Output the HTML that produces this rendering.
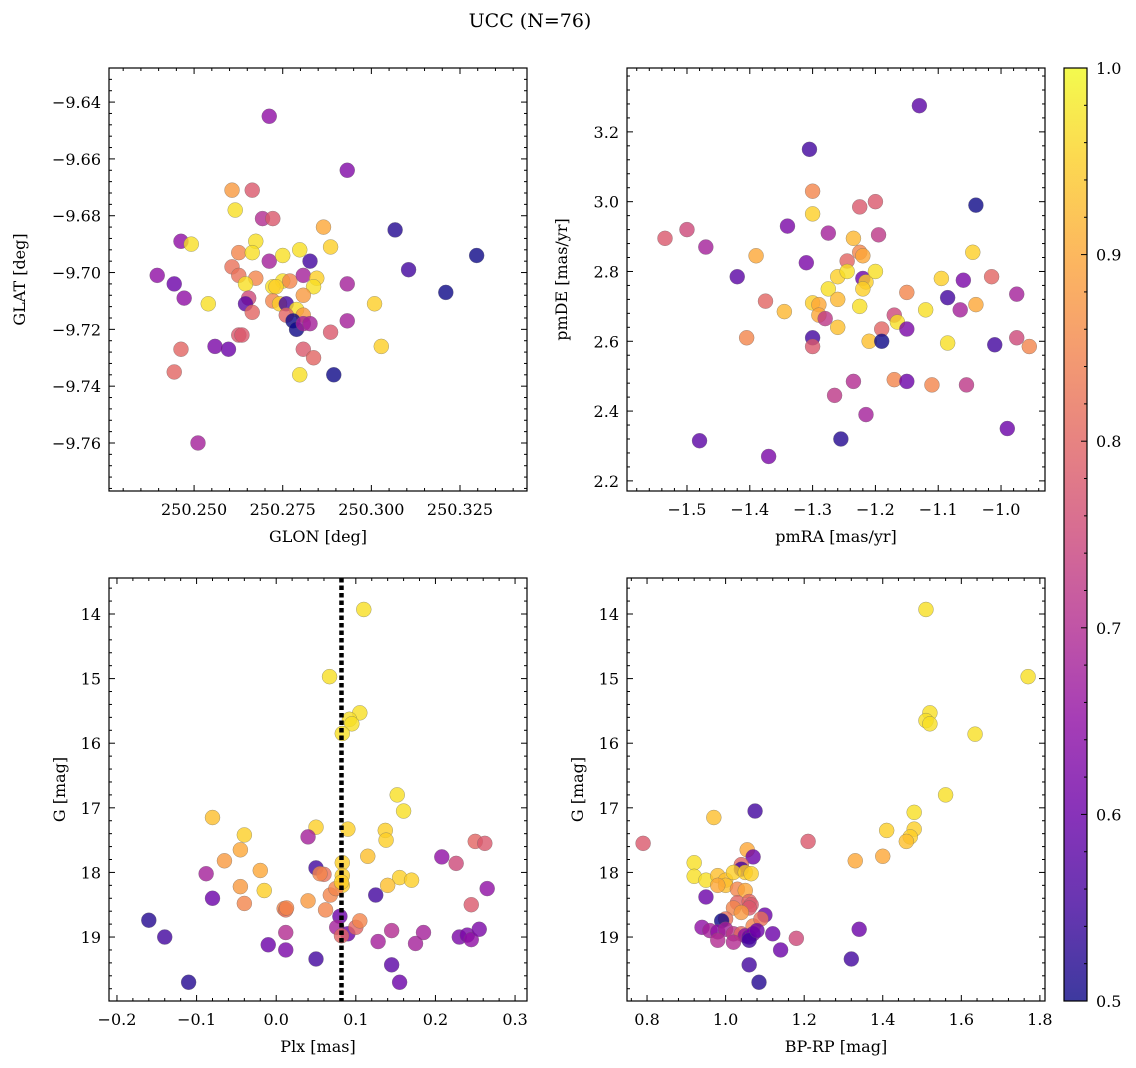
<!DOCTYPE html>
<html><head><meta charset="utf-8">
<style>
html,body{margin:0;padding:0;background:#fff;}
svg{display:block;font-family:"DejaVu Serif","Liberation Serif",serif;}
</style></head>
<body>
<svg id="fig" width="1136" height="1068" viewBox="0 0 1136 1068" xmlns="http://www.w3.org/2000/svg">
<text x="530" y="27" font-size="19" text-anchor="middle">UCC (N=76)</text>
</svg>
<script>
// ---- Panel 1: GLON / GLAT ----
const p1x=[250.2712,250.2932,250.2607,250.2664,250.2616,250.2693,250.2722,250.2865,250.3067,250.2463,250.2492,250.2674,250.2885,250.2626,250.2664,250.2712,250.2750,250.2798,250.2827,250.2607,250.2626,250.2674,250.2645,250.2750,250.2770,250.2808,250.2846,250.2837,250.2808,250.2722,250.2731,250.2540,250.2654,250.2645,250.2664,250.2722,250.2741,250.2760,250.2789,250.2760,250.2808,250.2779,250.2789,250.2808,250.2827,250.2932,250.2885,250.2932,250.2626,250.2597,250.2808,250.2837,250.2798,250.2894,250.2396,250.2444,250.2472,250.2463,250.2444,250.2511,250.2635,250.3105,250.3210,250.3297,250.3009,250.3028,250.2559];
const p1y=[-9.645,-9.664,-9.671,-9.671,-9.678,-9.681,-9.681,-9.684,-9.685,-9.689,-9.690,-9.689,-9.691,-9.693,-9.693,-9.696,-9.694,-9.692,-9.696,-9.698,-9.701,-9.702,-9.704,-9.703,-9.703,-9.701,-9.702,-9.705,-9.708,-9.705,-9.705,-9.711,-9.709,-9.711,-9.714,-9.710,-9.711,-9.711,-9.713,-9.715,-9.715,-9.717,-9.720,-9.718,-9.718,-9.717,-9.721,-9.704,-9.722,-9.727,-9.727,-9.730,-9.736,-9.736,-9.701,-9.704,-9.709,-9.727,-9.735,-9.760,-9.722,-9.699,-9.707,-9.694,-9.711,-9.726,-9.726];
const p1c=[.65,.63,.88,.78,.97,.7,.78,.9,.52,.65,.97,.97,.95,.85,.97,.68,.97,.97,.55,.82,.82,.85,.97,.97,.85,.68,.95,.97,.88,.97,.95,.97,.75,.58,.8,.85,.95,.55,.97,.8,.88,.5,.5,.68,.68,.68,.78,.68,.78,.6,.78,.8,.97,.5,.65,.6,.65,.8,.8,.68,.78,.55,.5,.5,.95,.95,.62];
// ---- Panel 2: pmRA / pmDE ----
const p2x=[-1.13,-1.305,-1.04,-1.30,-1.30,-1.535,-1.50,-1.47,-1.34,-1.275,-1.225,-1.20,-1.195,-1.245,-1.31,-1.39,-1.42,-1.225,-1.26,-1.245,-1.22,-1.215,-1.20,-1.275,-1.22,-1.30,-1.29,-1.26,-1.225,-1.29,-1.28,-1.375,-1.345,-1.26,-1.19,-1.17,-1.165,-1.21,-1.19,-1.30,-1.30,-1.405,-1.15,-1.12,-1.095,-1.085,-1.085,-1.065,-1.06,-1.045,-1.04,-1.015,-1.01,-0.975,-0.975,-0.955,-0.99,-1.15,-1.17,-1.15,-1.11,-1.055,-1.235,-1.265,-1.215,-1.255,-1.48,-1.37,-1.22,-1.235];
const p2y=[3.275,3.15,2.99,3.03,2.965,2.895,2.92,2.87,2.93,2.91,2.985,3.0,2.905,2.83,2.825,2.845,2.785,2.855,2.785,2.80,2.78,2.77,2.80,2.75,2.75,2.71,2.705,2.72,2.70,2.675,2.665,2.715,2.685,2.64,2.635,2.675,2.655,2.60,2.60,2.61,2.585,2.61,2.74,2.69,2.78,2.725,2.595,2.69,2.775,2.855,2.705,2.785,2.59,2.735,2.61,2.585,2.35,2.635,2.49,2.485,2.475,2.475,2.485,2.445,2.39,2.32,2.315,2.27,2.845,2.895];
const p2c=[.58,.55,.5,.85,.95,.78,.75,.68,.62,.68,.78,.78,.72,.8,.62,.9,.58,.85,.95,.97,.6,.95,.97,.97,.95,.95,.9,.92,.97,.9,.72,.8,.92,.93,.8,.75,.97,.93,.5,.55,.78,.85,.85,.97,.95,.55,.97,.68,.62,.95,.9,.8,.55,.68,.75,.85,.6,.62,.85,.6,.85,.72,.7,.72,.68,.52,.58,.62,.9,.92];
// ---- Panel 3: Plx / G ----
const p3x=[0.11,0.067,0.105,0.092,0.095,0.083,-0.08,0.152,0.16,0.05,0.09,0.137,0.138,-0.04,0.04,-0.045,-0.065,-0.088,-0.02,0.05,0.06,0.055,0.083,0.083,0.083,0.115,0.155,0.17,0.14,0.125,0.208,0.226,0.25,0.262,0.265,0.245,-0.045,-0.015,-0.08,-0.04,0.01,0.012,0.013,0.04,0.062,0.068,0.075,0.082,0.08,0.076,0.09,0.1,0.105,0.082,0.128,0.145,0.175,0.185,0.23,0.24,0.245,0.255,0.145,0.155,0.05,0.012,-0.01,0.012,-0.16,-0.14,-0.11];
const p3y=[13.93,14.97,15.53,15.63,15.70,15.85,17.15,16.8,17.05,17.3,17.33,17.35,17.5,17.42,17.45,17.65,17.82,18.02,17.97,17.93,18.03,18.02,17.85,18.05,18.2,17.75,18.08,18.12,18.2,18.35,17.76,17.86,17.52,17.55,18.25,18.5,18.22,18.28,18.4,18.48,18.56,18.58,18.55,18.44,18.58,18.35,18.25,18.15,18.68,18.85,18.95,18.85,18.75,18.98,19.07,18.9,19.1,18.93,19.0,18.97,19.04,18.88,19.43,19.7,19.34,19.2,19.12,18.93,18.74,19.0,19.7];
const p3c=[.97,.97,.97,.97,.97,.97,.93,.97,.97,.95,.95,.95,.95,.95,.68,.9,.88,.68,.9,.55,.82,.85,.95,.95,.95,.93,.95,.95,.93,.55,.65,.75,.8,.78,.65,.78,.88,.95,.6,.85,.85,.82,.85,.88,.85,.85,.85,.95,.6,.68,.6,.8,.85,.8,.68,.7,.68,.68,.62,.62,.65,.62,.58,.6,.55,.62,.6,.7,.52,.55,.52];
// ---- Panel 4: BP-RP / G ----
const p4x=[1.51,1.77,1.52,1.51,1.52,1.635,1.56,0.97,1.48,1.075,1.41,1.48,1.47,1.46,1.21,0.79,1.055,1.40,1.33,0.92,1.07,1.04,1.04,0.92,0.95,0.98,1.0,1.02,1.05,1.065,1.0,0.98,1.03,1.05,0.95,1.03,1.06,1.065,1.06,1.02,1.04,1.0,0.99,1.07,1.1,1.09,0.94,0.96,0.98,1.0,1.02,1.04,1.05,1.06,1.07,1.06,0.98,1.12,1.18,1.14,1.06,1.085,1.32,1.34,1.02,1.08];
const p4y=[13.93,14.97,15.53,15.65,15.70,15.86,16.8,17.15,17.07,17.05,17.35,17.33,17.45,17.52,17.52,17.55,17.65,17.75,17.82,17.85,17.76,17.88,17.95,18.06,18.12,18.05,18.12,18.0,18.0,18.02,18.2,18.2,18.26,18.28,18.38,18.47,18.45,18.5,18.55,18.55,18.62,18.72,18.75,18.83,18.66,18.72,18.85,18.9,18.92,18.88,18.95,18.95,18.98,19.0,18.95,19.05,19.05,18.95,19.02,19.2,19.43,19.7,19.34,18.88,19.08,18.9];
const p4c=[.97,.97,.97,.97,.97,.97,.97,.93,.97,.55,.95,.95,.95,.93,.78,.78,.9,.9,.9,.97,.6,.8,.55,.97,.97,.93,.93,.95,.95,.95,.93,.9,.85,.9,.6,.8,.8,.78,.78,.85,.88,.82,.5,.85,.6,.82,.65,.68,.65,.68,.72,.8,.65,.6,.62,.55,.7,.6,.75,.6,.55,.52,.55,.6,.7,.6];
const plxLine=0.082;

const NS="http://www.w3.org/2000/svg";
const svg=document.getElementById('fig');
const stops=['#0d0887','#41049d','#6a00a8','#8f0da4','#b12a90','#cc4778','#e16462','#f2844b','#fca636','#fcce25','#f0f921'];
function hex(h){return [parseInt(h.substr(1,2),16),parseInt(h.substr(3,2),16),parseInt(h.substr(5,2),16)];}
function plasma(t){t=Math.max(0,Math.min(1,t));const f=t*10;const i=Math.min(9,Math.floor(f));const u=f-i;const a=hex(stops[i]),b=hex(stops[i+1]);
return 'rgb('+a.map((v,k)=>Math.round(v+(b[k]-v)*u)).join(',')+')';}
function mk(tag,attrs,parent){const e=document.createElementNS(NS,tag);for(const k in attrs)e.setAttribute(k,attrs[k]);(parent||svg).appendChild(e);return e;}
function fmt(v,d){let s=v.toFixed(d);if(s.startsWith('-'))s='\u2212'+s.slice(1);if(s==='\u22120.0')s='0.0';return s;}

function panel(name,L,T,W,H,xmin,xmax,ymin,ymax,invY,xmaj,xminr,xd,ymaj,yminr,yd,xlab,ylab,xs,ys,cs,vline){
  const g=mk('g',{});
  
  
  const sx=v=>L+(v-xmin)/(xmax-xmin)*W;
  const sy=v=>invY?T+(v-ymin)/(ymax-ymin)*H:T+H-(v-ymin)/(ymax-ymin)*H;
  const clip=mk('clipPath',{id:'clip-'+name},g);mk('rect',{x:L,y:T,width:W,height:H},clip);
  const pts=mk('g',{'clip-path':'url(#clip-'+name+')'},g);
  for(let i=0;i<xs.length;i++){
    const c=mk('circle',{cx:sx(xs[i]),cy:sy(ys[i]),r:7.5,fill:plasma((cs[i]-0.5)/0.5),'fill-opacity':0.8,stroke:'#666','stroke-width':0.5,'stroke-opacity':0.6},pts);
    
    
  }
  if(vline!==undefined){
    const l=mk('line',{x1:sx(vline),x2:sx(vline),y1:T,y2:T+H,stroke:'#000','stroke-width':4.5,'stroke-dasharray':'4.5,3'},pts);
    
    
  }
  mk('rect',{x:L,y:T,width:W,height:H,fill:'none',stroke:'#000','stroke-width':1.2},g);
  const e=1e-9;
  for(let v=Math.ceil(xmin/xminr-e)*xminr;v<=xmax+e;v+=xminr){
    const isMaj=Math.abs(v/xmaj-Math.round(v/xmaj))<1e-4;const len=isMaj?6:3;const x=sx(v);
    mk('line',{x1:x,x2:x,y1:T+H,y2:T+H-len,stroke:'#000','stroke-width':1},g);
    mk('line',{x1:x,x2:x,y1:T,y2:T+len,stroke:'#000','stroke-width':1},g);
    if(isMaj){const t=mk('text',{x:x,y:T+H+24,'font-size':16,'text-anchor':'middle'},g);t.textContent=fmt(Math.round(v/xmaj)*xmaj,xd);
      }
  }
  for(let v=Math.ceil(ymin/yminr-e)*yminr;v<=ymax+e;v+=yminr){
    const isMaj=Math.abs(v/ymaj-Math.round(v/ymaj))<1e-4;const len=isMaj?6:3;const y=sy(v);
    mk('line',{x1:L,x2:L+len,y1:y,y2:y,stroke:'#000','stroke-width':1},g);
    mk('line',{x1:L+W,x2:L+W-len,y1:y,y2:y,stroke:'#000','stroke-width':1},g);
    if(isMaj){const t=mk('text',{x:L-8,y:y+6,'font-size':16,'text-anchor':'end'},g);t.textContent=fmt(Math.round(v/ymaj)*ymaj,yd);
      }
  }
  const xl=mk('text',{x:L+W/2,y:T+H+51,'font-size':16,'text-anchor':'middle'},g);xl.textContent=xlab;
  
  const yx=L-(yd>=2?84:(ymaj>=1?44:60));
  const yl=mk('text',{x:yx,y:T+H/2,'font-size':16,'text-anchor':'middle',transform:'rotate(-90 '+yx+' '+(T+H/2)+')'},g);yl.textContent=ylab;
  
}
panel('glon-glat-panel',109,68,418,423,250.226,250.3439,-9.7769,-9.628,false,0.025,0.005,3,0.02,0.004,2,'GLON [deg]','GLAT [deg]',p1x,p1y,p1c);
panel('pm-panel',627,68,418,423,-1.5955,-0.930,2.171,3.383,false,0.1,0.02,1,0.2,0.04,1,'pmRA [mas/yr]','pmDE [mas/yr]',p2x,p2y,p2c);
panel('plx-g-panel',109,578,418,423,-0.210,0.315,13.443,19.99,true,0.1,0.02,1,1,0.2,0,'Plx [mas]','G [mag]',p3x,p3y,p3c,plxLine);
panel('cmd-panel',627,578,418,423,0.749,1.813,13.443,19.99,true,0.2,0.04,1,1,0.2,0,'BP-RP [mag]','G [mag]',p4x,p4y,p4c);

const defs=mk('defs',{});
const lg=mk('linearGradient',{id:'cbg',x1:0,y1:1,x2:0,y2:0},defs);
stops.forEach((s,i)=>mk('stop',{offset:i/10,'stop-color':s},lg));
const cb=mk('g',{});


const CT=68,CB=1001,CL=1064,CW=23;
mk('rect',{x:CL,y:CT,width:CW,height:CB-CT,fill:'url(#cbg)','fill-opacity':0.8},cb);
mk('rect',{x:CL,y:CT,width:CW,height:CB-CT,fill:'none',stroke:'#000','stroke-width':1.2},cb);
for(let k=0;k<=25;k++){const v=0.5+k*0.02;const y=CB-(v-0.5)/0.5*(CB-CT);const maj=k%5===0;
  mk('line',{x1:CL+CW,x2:CL+CW-(maj?6:3),y1:y,y2:y,stroke:'#000','stroke-width':1},cb);
  if(maj){const t=mk('text',{x:CL+CW+9,y:y+6,'font-size':16},cb);t.textContent=v.toFixed(1);
    }}
</script>
</body></html>
